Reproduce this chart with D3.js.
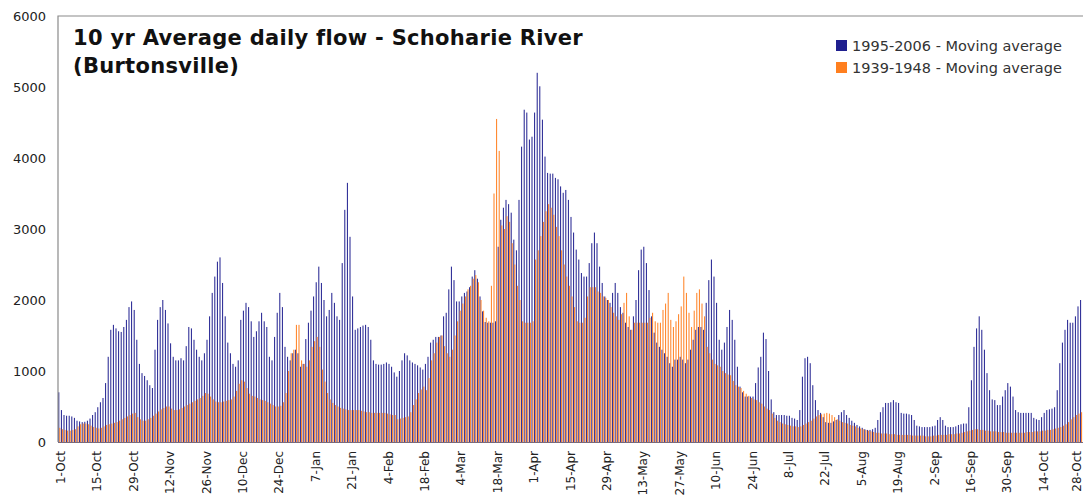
<!DOCTYPE html>
<html>
<head>
<meta charset="utf-8">
<script src="https://cdn.jsdelivr.net/npm/d3@7"></script>
<style>
  body { margin: 0; background: #fff; }
  text { font-family: "DejaVu Sans", Verdana, sans-serif; }
</style>
</head>
<body>
<div id="chart"></div>
<script>
// Chart size
const WIDTH = 1083;
const HEIGHT = 496;
const LEFT = 58, TOP = 16, BOTTOM = 442;
const DAY_W = 2.6;
const COLOUR_RECENT = "#1f1f8f";
const COLOUR_OLD = "#ff7f1f";

// Daily moving average flow, 1-Oct through 29-Oct of the next year
// 1995-2006
const recent = [
  700, 450, 380, 370, 370, 360, 340, 300, 290, 280,
  285, 300, 330, 380, 420, 490, 560, 620, 830, 1200,
  1580, 1650, 1600, 1560, 1550, 1620, 1720, 1900, 1980, 1860,
  1440, 1100, 970, 930, 870, 800, 760, 1300, 1720, 1900,
  2000, 1860, 1670, 1390, 1200, 1150, 1150, 1180, 1150, 1350,
  1620, 1600, 1440, 1300, 1200, 1150, 1250, 1440, 1770, 2100,
  2330, 2540, 2600, 2240, 1770, 1400, 1250, 1100, 1060, 1150,
  1720, 1850, 1960, 1900, 1700, 1480, 1560, 1700, 1820, 1700,
  1620, 1200, 1150, 1480, 1820, 2100, 1900, 1340, 1200, 1150,
  1250, 1300, 1250, 1060, 1100, 1450, 1680, 1850, 2050, 2250,
  2470, 2240, 2000, 1770, 1860, 2100, 1960, 1770, 1720, 2520,
  3270, 3650, 2890, 2050, 1580, 1600, 1620, 1640, 1650, 1620,
  1440, 1150, 1100, 1090, 1090, 1100, 1120, 1100, 1060, 980,
  920, 1000, 1150, 1250, 1220, 1150, 1120, 1100, 1080, 1050,
  1020, 1100, 1200, 1400, 1440, 1480, 1480, 1500, 1770, 1820,
  2150, 2470, 2280, 1980, 1980, 2050, 2100, 2120, 2180, 2330,
  2420, 2300, 2050, 1840, 1690, 1680, 1680, 1680, 1700, 2750,
  3130, 3300, 3410, 3350, 3230, 2850, 2700, 3410, 4160, 4680,
  4640, 4260, 4300, 4640, 5200, 5010, 4540, 4020, 3790, 3780,
  3780, 3720, 3700, 3600, 3510, 3550, 3410, 3170, 2950, 2710,
  2570, 2380, 2330, 2330, 2520, 2800, 2950, 2800, 2470, 2240,
  2050, 2000, 1960, 2100, 2240, 2100, 1900, 1820, 1680, 1620,
  1580, 1770, 2000, 2420, 2710, 2750, 2520, 2140, 1770, 1540,
  1400, 1340, 1300, 1250, 1200, 1110, 1060, 1160, 1160, 1200,
  1160, 1110, 1160, 1300, 1440, 1580, 1620, 1620, 1580, 1960,
  2280, 2570, 2330, 1960, 1440, 1300, 1400, 1620, 1860, 1720,
  1440, 1060, 780, 700, 640, 640, 640, 640, 830, 1050,
  1200, 1540, 1450, 1000, 600, 420, 380, 380, 380, 380,
  370, 370, 340, 330, 310, 450, 920, 1180, 1200, 1110,
  800, 590, 450, 410, 350, 280, 270, 270, 290, 310,
  380, 420, 450, 380, 340, 300, 270, 240, 220, 200,
  180, 170, 170, 180, 200, 310, 420, 490, 550, 550,
  560, 590, 560, 550, 410, 400, 400, 390, 380, 310,
  230, 220, 210, 210, 210, 210, 220, 230, 310, 350,
  310, 230, 210, 210, 210, 220, 240, 250, 260, 260,
  490, 870, 1340, 1600, 1770, 1580, 1300, 970, 730, 600,
  590, 520, 520, 640, 730, 830, 780, 640, 450, 420,
  410, 410, 410, 410, 410, 340, 320, 310, 350, 410,
  450, 460, 470, 490, 730, 1110, 1400, 1580, 1720, 1680,
  1680, 1770, 1910, 2000
];

// 1939-1948
const old = [
  200, 180, 170, 160, 160, 170, 180, 220, 250, 260,
  260, 250, 230, 210, 200, 190, 200, 220, 240, 250,
  260, 270, 280, 300, 320, 340, 360, 380, 400, 410,
  350, 320, 300, 300, 320, 340, 370, 400, 430, 460,
  480, 500, 500, 470, 450, 450, 460, 480, 500, 520,
  540, 560, 580, 600, 620, 650, 690, 680, 640, 600,
  570, 560, 560, 570, 580, 590, 600, 640, 720, 820,
  870, 850, 760, 680, 650, 640, 620, 600, 590, 580,
  560, 540, 520, 500, 500, 510, 560, 690, 1000, 1250,
  1300, 1650, 1650, 1150, 1100, 1060, 1150, 1340, 1420, 1480,
  1340, 1020, 850, 690, 600, 550, 520, 500, 480, 470,
  460, 450, 450, 450, 450, 450, 440, 430, 420, 420,
  410, 410, 410, 410, 410, 410, 400, 390, 380, 380,
  320, 330, 340, 350, 360, 420, 520, 600, 690, 740,
  780, 730, 900, 1150, 1250, 1400, 1480, 1500, 1350, 1250,
  1200, 1300, 1500, 1700, 1850, 1950, 2050, 2150, 2200, 2300,
  2350, 2250, 2000, 1850, 1750, 1700, 2200, 3500, 4550, 4100,
  3050, 3000, 3180, 3100, 2800, 2500, 2200, 2000, 1700, 1680,
  1680, 1680, 1700, 2570, 2700, 2900, 3100, 3250, 3350, 3300,
  3200, 3030, 2900, 2700, 2500, 2330, 2200, 2050, 1900, 1700,
  1680, 1680, 1750, 2050, 2180, 2180, 2180, 2120, 2100, 2050,
  2030, 2000, 1900, 1820, 1770, 1720, 1800, 1960, 2100, 1770,
  1580, 1680, 1680, 1680, 1680, 1680, 1680, 1750, 1820, 1700,
  1680, 1680, 1860, 1950, 2100, 1720, 1620, 1700, 1800, 1910,
  2330, 2100, 1820, 1620, 1850, 2100, 2150, 1950, 1770, 1340,
  1250, 1160, 1100, 1080, 1060, 1000, 970, 950, 940, 860,
  800, 780, 760, 720, 680, 650, 620, 600, 590, 560,
  540, 500, 470, 450, 400, 340, 300, 280, 260, 250,
  240, 230, 220, 220, 210, 220, 240, 260, 280, 300,
  330, 360, 380, 390, 400, 410, 400, 380, 350, 320,
  300, 280, 270, 260, 240, 230, 220, 200, 190, 180,
  170, 160, 150, 140, 130, 130, 120, 120, 120, 110,
  110, 110, 100, 100, 100, 100, 100, 100, 90, 90,
  90, 90, 90, 80, 80, 80, 90, 90, 100, 100,
  100, 100, 110, 110, 110, 120, 120, 130, 140, 150,
  160, 170, 180, 180, 170, 170, 160, 160, 150, 150,
  150, 140, 140, 140, 130, 130, 130, 130, 130, 130,
  130, 130, 140, 140, 140, 150, 150, 150, 160, 160,
  170, 170, 180, 190, 200, 210, 230, 250, 280, 320,
  350, 380, 400, 420
];

// Category labels, one every 14 days
const tickLabels = ["1-Oct", "15-Oct", "29-Oct", "12-Nov", "26-Nov", "10-Dec", "24-Dec",
  "7-Jan", "21-Jan", "4-Feb", "18-Feb", "4-Mar", "18-Mar", "1-Apr", "15-Apr", "29-Apr",
  "13-May", "27-May", "10-Jun", "24-Jun", "8-Jul", "22-Jul", "5-Aug", "19-Aug", "2-Sep",
  "16-Sep", "30-Sep", "14-Oct", "28-Oct"];
const TICK_STEP = 14;

const seriesNames = ["1995-2006 - Moving average", "1939-1948 - Moving average"];
const yTicks = [0, 1000, 2000, 3000, 4000, 5000, 6000];

const days = d3.range(recent.length);

let svg = d3.select("#chart").append("svg")
  .attr("width", WIDTH)
  .attr("height", HEIGHT);

// Scales
let x = d3.scaleBand()
  .domain(days)
  .range([LEFT, LEFT + DAY_W * days.length])
  .padding(0);

let xInner = d3.scaleBand()
  .domain(["recent", "old"])
  .range([0, x.bandwidth()])
  .paddingInner(0)
  .paddingOuter(0.3);

let y = d3.scaleLinear()
  .domain([0, 6000])
  .range([BOTTOM, TOP]);

// Bars: clustered, one pair per day
let rows = days.map(d => ({day: d, recent: recent[d], old: old[d]}));

svg.append("defs").append("clipPath").attr("id", "plot-clip")
  .append("rect")
  .attr("x", LEFT).attr("y", TOP)
  .attr("width", WIDTH - LEFT).attr("height", BOTTOM - TOP + 1);

let bars = svg.append("g").attr("clip-path", "url(#plot-clip)");

bars.selectAll("g")
  .data(rows)
  .join("g")
  .attr("transform", d => `translate(${x(d.day)},0)`)
  .selectAll("rect")
  .data(d => [{key: "recent", v: d.recent}, {key: "old", v: d.old}])
  .join("rect")
  .attr("x", d => xInner(d.key))
  .attr("width", xInner.bandwidth())
  .attr("y", d => y(d.v))
  .attr("height", d => BOTTOM - y(d.v))
  .attr("fill", d => d.key === "recent" ? COLOUR_RECENT : COLOUR_OLD);

// Plot frame (left and top edges visible)
svg.append("path")
  .attr("d", `M${LEFT},${BOTTOM}V${TOP}H${WIDTH}`)
  .attr("fill", "none")
  .attr("stroke", "#8a8a8a")
  .attr("stroke-width", 1.2);

svg.append("line")
  .attr("x1", LEFT).attr("x2", WIDTH)
  .attr("y1", BOTTOM + 0.5).attr("y2", BOTTOM + 0.5)
  .attr("stroke", "#7a6a7a");

// Y axis labels
let yAxis = d3.axisLeft(y)
  .tickValues(yTicks)
  .tickFormat(d3.format("d"))
  .tickSize(0)
  .tickPadding(12);

svg.append("g")
  .attr("transform", `translate(${LEFT},0)`)
  .call(yAxis)
  .call(g => g.select(".domain").remove())
  .selectAll("text")
  .attr("font-size", 13)
  .attr("fill", "#222");

// X labels, rotated (last one nudged so it stays on the page)
svg.append("g")
  .selectAll("text")
  .data(tickLabels)
  .join("text")
  .attr("transform", (d, i) => {
    let cx = Math.min(x(i * TICK_STEP) + x.bandwidth() / 2 + 1.5, WIDTH - 6);
    return `translate(${cx},451) rotate(-90)`;
  })
  .attr("text-anchor", "end")
  .attr("dy", "0.35em")
  .attr("font-size", 12)
  .attr("fill", "#222")
  .text(d => d);

// Title
let title = svg.append("text")
  .attr("font-weight", "bold")
  .attr("font-size", 21)
  .attr("letter-spacing", 0.3)
  .attr("fill", "#111");
title.append("tspan").attr("x", 73).attr("y", 45).text("10 yr Average daily flow - Schoharie River");
title.append("tspan").attr("x", 73).attr("y", 73).text("(Burtonsville)");

// Legend
let legend = svg.append("g")
  .selectAll("g")
  .data(seriesNames)
  .join("g")
  .attr("transform", (d, i) => `translate(836,${40 + i * 22})`);

legend.append("rect")
  .attr("width", 11).attr("height", 11)
  .attr("fill", (d, i) => i === 0 ? COLOUR_RECENT : COLOUR_OLD);

legend.append("text")
  .attr("x", 16)
  .attr("y", 11)
  .attr("font-size", 14.5)
  .attr("fill", "#333")
  .text(d => d);
</script>
</body>
</html>
